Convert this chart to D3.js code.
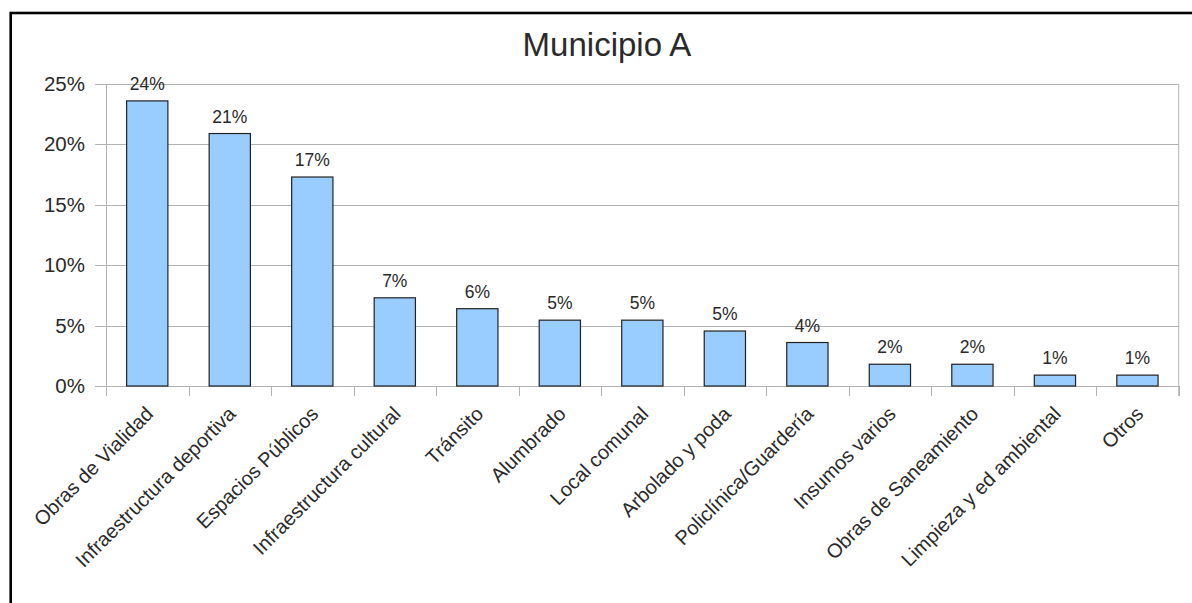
<!DOCTYPE html>
<html>
<head>
<meta charset="utf-8">
<script src="https://cdn.jsdelivr.net/npm/d3@7"></script>
<style>
  html, body { margin: 0; padding: 0; background: #fff; }
  svg { display: block; }
  text { font-family: "Liberation Sans", Arial, sans-serif; fill: #2a2a2a; }
</style>
</head>
<body>
<script>
const title = "Municipio A";
const categories = ["Obras de Vialidad", "Infraestructura deportiva", "Espacios Públicos",
  "Infraestructura cultural", "Tránsito", "Alumbrado", "Local comunal", "Arbolado y poda",
  "Policlínica/Guardería", "Insumos varios", "Obras de Saneamiento", "Limpieza y ed ambiental", "Otros"];
const values = [0.236, 0.209, 0.173, 0.073, 0.064, 0.0545, 0.0545, 0.0455, 0.036, 0.018, 0.018, 0.009, 0.009];
const yTicks = [0, 0.05, 0.10, 0.15, 0.20, 0.25];

const W = 1192, H = 603;
const m = { left: 106, right: 1178.7, top: 84, bottom: 386 };

const svg = d3.select("body").append("svg").attr("width", W).attr("height", H);

svg.append("rect").attr("x", 10.7).attr("y", 13).attr("width", 1300).attr("height", 700)
  .attr("fill", "none").attr("stroke", "#000").attr("stroke-width", 2.6);

const x = d3.scaleBand().domain(categories).range([m.left, m.right]).paddingInner(0.5).paddingOuter(0.25);
const y = d3.scaleLinear().domain([0, 0.25]).range([m.bottom, m.top]);
const fmt = d3.format(".0%");

// gridlines
svg.append("g").selectAll("line").data(yTicks).join("line")
  .attr("x1", m.left - 11).attr("x2", m.right)
  .attr("y1", d => Math.round(y(d)) + 0.5).attr("y2", d => Math.round(y(d)) + 0.5)
  .attr("stroke", "#b3b3b3").attr("stroke-width", 1);

// y axis labels
const yAxis = d3.axisLeft(y).tickValues(yTicks).tickFormat(fmt).tickSize(0).tickPadding(21);
const ya = svg.append("g").attr("transform", `translate(${m.left},0)`).call(yAxis);
ya.select(".domain").remove();
ya.selectAll("text").style("font-family", "Liberation Sans, Arial, sans-serif")
  .style("font-size", "20.5px").style("fill", "#2a2a2a");

// left axis line & right border
svg.append("line").attr("x1", m.left + 0.5).attr("x2", m.left + 0.5).attr("y1", m.top).attr("y2", m.bottom + 10)
  .attr("stroke", "#b3b3b3");
svg.append("line").attr("x1", m.right).attr("x2", m.right).attr("y1", m.top).attr("y2", m.bottom + 10)
  .attr("stroke", "#b3b3b3");

// x ticks at category boundaries
const step = x.step();
const bounds = d3.range(categories.length + 1).map(i => m.left + i * step);
svg.append("g").selectAll("line").data(bounds).join("line")
  .attr("x1", d => Math.round(d) + 0.5).attr("x2", d => Math.round(d) + 0.5)
  .attr("y1", m.bottom).attr("y2", m.bottom + 10)
  .attr("stroke", "#b3b3b3");

// bars
svg.append("g").selectAll("rect").data(values).join("rect")
  .attr("x", (d, i) => x(categories[i]))
  .attr("y", d => y(d))
  .attr("width", x.bandwidth())
  .attr("height", d => y(0) - y(d))
  .attr("fill", "#99ccff").attr("stroke", "#222").attr("stroke-width", 1.2);

// value labels
svg.append("g").selectAll("text").data(values).join("text")
  .attr("x", (d, i) => x(categories[i]) + x.bandwidth() / 2)
  .attr("y", d => y(d) - 11)
  .attr("text-anchor", "middle")
  .style("font-size", "17.5px")
  .text(d => fmt(d));

// category labels
svg.append("g").selectAll("text").data(categories).join("text")
  .attr("transform", d => `translate(${x(d) + x.bandwidth() / 2 - 3},${405}) rotate(-45)`)
  .attr("text-anchor", "end")
  .attr("dy", "0.72em")
  .style("font-size", "20px")
  .text(d => d);

// title
svg.append("text").attr("x", 607).attr("y", 56).attr("text-anchor", "middle")
  .style("font-size", "33px").text(title);
</script>
</body>
</html>
